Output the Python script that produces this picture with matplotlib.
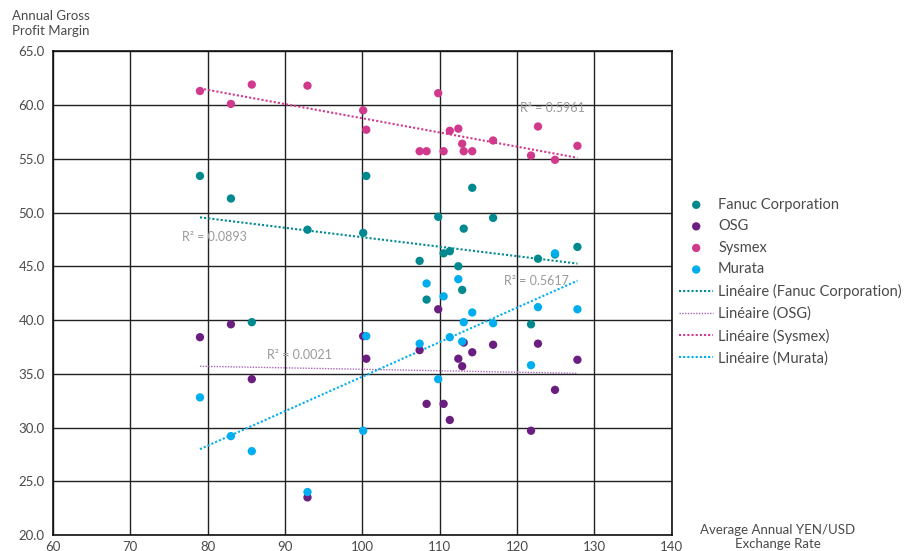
import numpy as np
import matplotlib.pyplot as plt

plt.rcParams['font.family'] = ['Lato', 'DejaVu Sans']

# taux de change moyen annuel YEN/USD
fx = [79.0, 83.0, 85.7, 92.9, 100.1, 100.5, 107.4, 108.3, 109.8, 110.5,
      111.3, 112.4, 112.9, 113.1, 114.2, 116.9, 121.8, 122.7, 124.9, 127.8]

fanuc = [53.4, 51.3, 39.8, 48.4, 48.1, 53.4, 45.5, 41.9, 49.6, 46.2,
         46.4, 45.0, 42.8, 48.5, 52.3, 49.5, 39.6, 45.7, 46.1, 46.8]
osg = [38.4, 39.6, 34.5, 23.5, 38.5, 36.4, 37.2, 32.2, 41.0, 32.2,
       30.7, 36.4, 35.7, 37.9, 37.0, 37.7, 29.7, 37.8, 33.5, 36.3]
sysmex = [61.3, 60.1, 61.9, 61.8, 59.5, 57.7, 55.7, 55.7, 61.1, 55.7,
          57.6, 57.8, 56.4, 55.7, 55.7, 56.7, 55.3, 58.0, 54.9, 56.2]
murata = [32.8, 29.2, 27.8, 24.0, 29.7, 38.5, 37.8, 43.4, 34.5, 42.2,
          38.4, 43.8, 38.0, 39.8, 40.7, 39.7, 35.8, 41.2, 46.2, 41.0]

names = ['Fanuc Corporation', 'OSG', 'Sysmex', 'Murata']
colors = ['#008a8f', '#6a1f80', '#d1398c', '#00aeef']
trend_colors = ['#008a8f', '#a865b8', '#d1398c', '#00aeef']
r2_text = ['R² = 0.0893', 'R² = 0.0021', 'R² = 0.5961', 'R² = 0.5617']
r2_pos = [(80.9, 47.7), (91.8, 36.7), (124.6, 59.7), (122.5, 43.6)]

fig = plt.figure(figsize=(9.14, 5.51), dpi=100)
ax = fig.add_axes([0.058, 0.029, 0.677, 0.878])

x = np.array(fx)
dots = []
lines = []
for i, ys in enumerate([fanuc, osg, sysmex, murata]):
    y = np.array(ys)
    d = ax.scatter(x, y, s=36, color=colors[i], edgecolors='none', zorder=3,
                   label=names[i])
    dots.append(d)
for i, ys in enumerate([fanuc, osg, sysmex, murata]):
    y = np.array(ys)
    a, b = np.polyfit(x, y, 1)
    xx = np.array([x.min(), x.max()])
    lw = 1.0 if i == 1 else 1.5
    ln, = ax.plot(xx, a * xx + b, linestyle=(0, (1, 1)), color=trend_colors[i],
                  lw=lw, zorder=2, label='Linéaire (' + names[i] + ')')
    lines.append(ln)
    ax.text(r2_pos[i][0], r2_pos[i][1], r2_text[i], color='#9a9a9a',
            fontsize=9, ha='center', va='center', zorder=4)

ax.set_xlim(60, 140)
ax.set_ylim(20, 65)
ax.set_xticks(np.arange(60, 141, 10))
ax.set_yticks(np.arange(20, 66, 5))
ax.set_yticklabels(['%.1f' % v for v in np.arange(20, 66, 5)])
ax.grid(True, color='#222222', lw=1.0)
ax.set_axisbelow(True)
for s in ax.spines.values():
    s.set_color('#111111')
    s.set_linewidth(1.2)
ax.tick_params(length=0, labelsize=9.5, labelcolor='#4a4a4a', pad=6)
ax.tick_params(axis='x', pad=4)

fig.text(0.013, 0.982, 'Annual Gross\nProfit Margin', fontsize=9.5,
         color='#4a4a4a', ha='left', va='top', linespacing=1.3)
fig.text(0.851, 0.026, 'Average Annual YEN/USD\nExchange Rate', fontsize=9.5,
         color='#4a4a4a', ha='center', va='center', linespacing=1.2)

leg = fig.legend(handles=dots + lines, loc='center left',
                 bbox_to_anchor=(0.729, 0.489), frameon=False, fontsize=10.5,
                 labelspacing=0.52, handlelength=2.3, handletextpad=0.35,
                 scatterpoints=1)
for t in leg.get_texts():
    t.set_color('#4a4a4a')

fig.savefig('out.png', dpi=100)
